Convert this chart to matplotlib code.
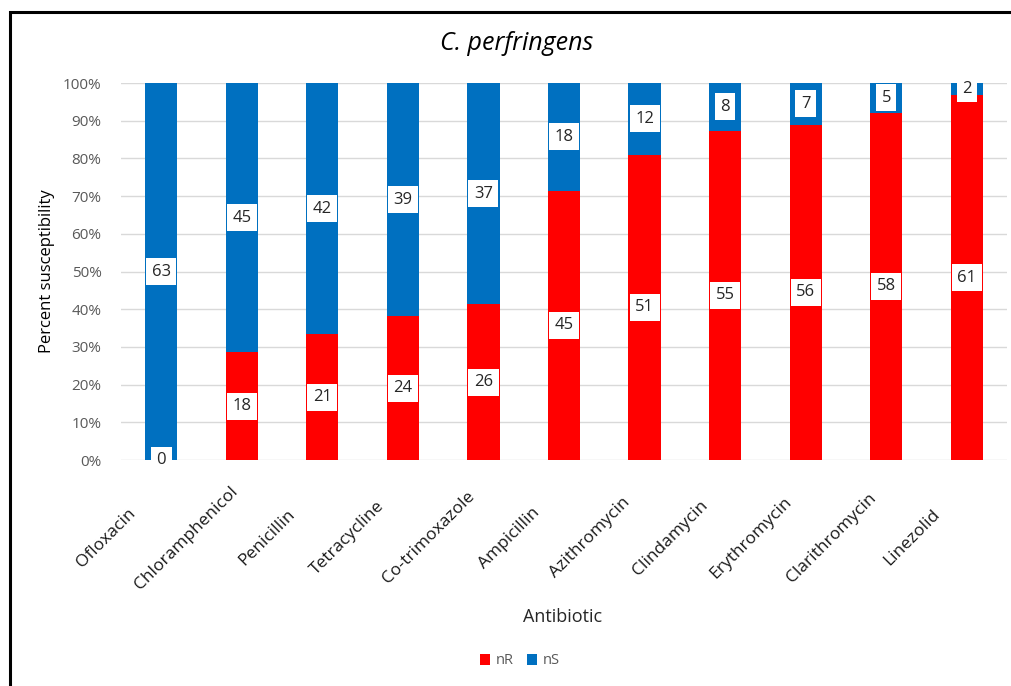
import matplotlib
matplotlib.use("Agg")
import matplotlib.pyplot as plt
import numpy as np
from matplotlib.patches import Rectangle
from matplotlib.ticker import PercentFormatter, MultipleLocator
from matplotlib.transforms import ScaledTranslation

antibiotics = ["Ofloxacin", "Chloramphenicol", "Penicillin", "Tetracycline",
               "Co-trimoxazole", "Ampicillin", "Azithromycin", "Clindamycin",
               "Erythromycin", "Clarithromycin", "Linezolid"]
n_resistant = [0, 18, 21, 24, 26, 45, 51, 55, 56, 58, 61]
n_susceptible = [63, 45, 42, 39, 37, 18, 12, 8, 7, 5, 2]

plt.rcParams["font.family"] = ["Open Sans", "DejaVu Sans"]

fig = plt.figure(figsize=(10.11, 6.86), dpi=100)
ax = fig.add_axes([0.1197, 0.3294, 0.8764, 0.5496])

nr = np.array(n_resistant, dtype=float)
ns = np.array(n_susceptible, dtype=float)
total = nr + ns
pr = nr / total * 100
ps = ns / total * 100
x = np.arange(len(antibiotics))

red = "#FF0000"
blue = "#0070C0"
w = 0.4
ax.bar(x, pr, w, color=red, label="nR", zorder=2)
ax.bar(x, ps, w, bottom=pr, color=blue, label="nS", zorder=2)

box = dict(boxstyle="square,pad=0.33", fc="white", ec="none")
for i in range(len(x)):
    ax.text(x[i], pr[i] / 2, f"{int(nr[i])}", ha="center", va="center",
            fontsize=12, color="#262626", bbox=box, zorder=3)
    ax.text(x[i], pr[i] + ps[i] / 2, f"{int(ns[i])}", ha="center", va="center",
            fontsize=12, color="#262626", bbox=box, zorder=3)

ax.set_xlim(-0.5, len(x) - 0.5)
ax.set_ylim(0, 100)
ax.yaxis.set_major_locator(MultipleLocator(10))
ax.yaxis.set_major_formatter(PercentFormatter(decimals=0))
ax.grid(axis="y", color="#D9D9D9", linewidth=1, zorder=0)
for s in ax.spines.values():
    s.set_visible(False)
ax.tick_params(axis="both", length=0)
ax.tick_params(axis="y", labelsize=11, labelcolor="#595959", pad=14)

# category names: rotated, centred below-left of each bar
ax.set_xticks(x)
ax.set_xticklabels([])
shift = ScaledTranslation(-0.55, -0.78, fig.dpi_scale_trans)
for xi, name in zip(x, antibiotics):
    ax.text(xi, 0, name, transform=ax.get_xaxis_transform() + shift,
            rotation=45, rotation_mode="anchor", ha="center", va="center",
            fontsize=12.5, color="#1a1a1a")

ax.set_ylabel("Percent susceptibility", fontsize=12, color="black", labelpad=6)
fig.text(563 / 1011, 1 - 617 / 686, "Antibiotic", ha="center", va="center",
         fontsize=13, color="#262626")
fig.text(517 / 1011, 1 - 43 / 686, "C. perfringens", ha="center", va="center",
         fontsize=18, style="italic", color="black")

handles, labels = ax.get_legend_handles_labels()
fig.legend(handles, labels, loc="center", bbox_to_anchor=(520 / 1011, 1 - 661 / 686),
           ncol=2, frameon=False, fontsize=10.5, handlelength=0.7, handleheight=0.7,
           handletextpad=0.4, columnspacing=0.9, labelcolor="#595959")

fig.patches.append(Rectangle((10 / 1011, -0.05), 1.2, 1 - 12 / 686 + 0.05,
                             transform=fig.transFigure, fill=False,
                             ec="black", lw=2.2))

fig.savefig("out.png", dpi=100)
